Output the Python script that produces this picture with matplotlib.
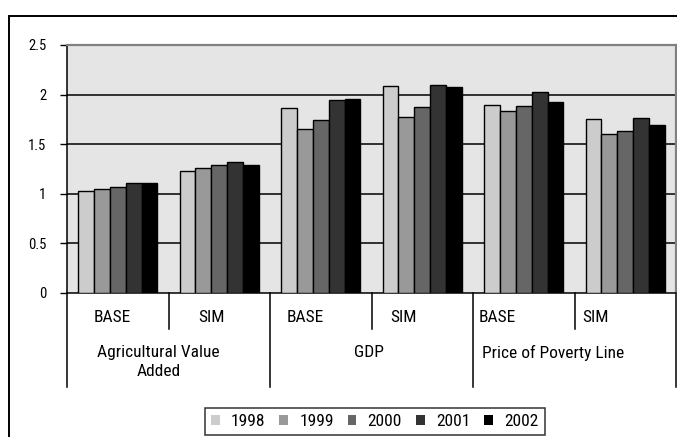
import matplotlib
matplotlib.use("Agg")
import matplotlib.pyplot as plt
from matplotlib.patches import Rectangle, Patch
import matplotlib.transforms as mtransforms
import numpy as np
import logging
logging.getLogger('matplotlib.font_manager').setLevel(logging.ERROR)

plt.rcParams['font.family'] = ['Roboto Condensed', 'Arial Narrow', 'Liberation Sans Narrow',
                               'PT Sans Narrow', 'Archivo Narrow', 'IBM Plex Sans Condensed',
                               'Sofia Sans Semi Condensed', 'DejaVu Sans']

# Data
years = ['1998', '1999', '2000', '2001', '2002']
scenarios = ['BASE', 'SIM', 'BASE', 'SIM', 'BASE', 'SIM']
indicators = ['Agricultural Value\nAdded', 'GDP', 'Price of Poverty Line']
v1998 = [1.03, 1.23, 1.86, 2.09, 1.90, 1.75]
v1999 = [1.05, 1.26, 1.65, 1.77, 1.83, 1.60]
v2000 = [1.07, 1.29, 1.74, 1.87, 1.89, 1.63]
v2001 = [1.11, 1.32, 1.95, 2.10, 2.03, 1.76]
v2002 = [1.11, 1.29, 1.96, 2.08, 1.93, 1.69]
yticks = [0, 0.5, 1, 1.5, 2, 2.5]
ytick_labels = ['0', '0.5', '1', '1.5', '2', '2.5']

series = [v1998, v1999, v2000, v2001, v2002]
colors = ['#cccccc', '#999999', '#666666', '#333333', '#000000']

W, H = 677, 437
fig = plt.figure(figsize=(W / 100, H / 100), dpi=100)
fig.patch.set_facecolor('white')

# outer chart frame
fig.add_artist(Rectangle((9 / W, -0.2), 1.2, 1 - 16 / H + 0.2,
                         transform=fig.transFigure, fill=False,
                         edgecolor='black', linewidth=1.4))

ax = fig.add_axes([67 / W, 144 / H, 609 / W, 248 / H])
ax.set_facecolor('#e5e5e5')

x = np.arange(len(scenarios))
bw = 0.156
for j, (vals, c) in enumerate(zip(series, colors)):
    ax.bar(x + (j - 2) * bw, vals, width=bw, color=c, edgecolor='black',
           linewidth=1.0, zorder=3, label=years[j])

ax.set_xlim(-0.5, len(scenarios) - 0.5)
ax.set_ylim(0, 2.5)
ax.set_yticks(yticks)
ax.set_yticklabels(ytick_labels, fontsize=10.5)
ax.tick_params(axis='y', length=5, width=1, pad=10, color='black')
ax.set_xticks([])

for yv in yticks[1:-1]:
    ax.axhline(yv, color='black', linewidth=1.1, zorder=1)

ax.spines['left'].set_color('black')
ax.spines['bottom'].set_color('black')
ax.spines['left'].set_linewidth(1.1)
ax.spines['bottom'].set_linewidth(1.1)
ax.spines['top'].set_color('#808080')
ax.spines['right'].set_color('#808080')
ax.spines['top'].set_linewidth(1.6)
ax.spines['right'].set_linewidth(1.6)

trans = mtransforms.blended_transform_factory(ax.transData, ax.transAxes)

# separators between scenario labels and between indicator groups
for xs in [0.5, 2.5, 4.5]:
    ax.plot([xs, xs], [0, -0.145], transform=trans, color='black',
            linewidth=1.1, clip_on=False)
for xs in [-0.5, 1.5, 3.5, 5.5]:
    ax.plot([xs, xs], [0, -0.38], transform=trans, color='black',
            linewidth=1.1, clip_on=False)

# scenario labels
label_shift = [-0.05, -0.08, -0.155, -0.18, -0.26, -0.29]
for i, s in enumerate(scenarios):
    ax.text(i + label_shift[i], -0.097, s, transform=trans, ha='center',
            va='center', fontsize=12.5)

# indicator labels
ind_pos = [0.40, 2.475, 4.29]
for p, s in zip(ind_pos, indicators):
    ax.text(p, -0.21, s, transform=trans, ha='center', va='top',
            fontsize=12.5, linespacing=1.35)

handles = [Patch(facecolor=c, edgecolor='none') for c in colors]
fig.legend(handles=handles, labels=years, loc='upper left',
           bbox_to_anchor=(205 / W, 1 - 408 / H), borderaxespad=0,
           ncol=5, fontsize=12.5, frameon=True, fancybox=False,
           edgecolor='black', handlelength=0.5, handleheight=0.5,
           handletextpad=0.65, columnspacing=0.8, borderpad=0.35)
fig.legends[0].get_frame().set_linewidth(1.1)

fig.savefig('out.png', dpi=100)
